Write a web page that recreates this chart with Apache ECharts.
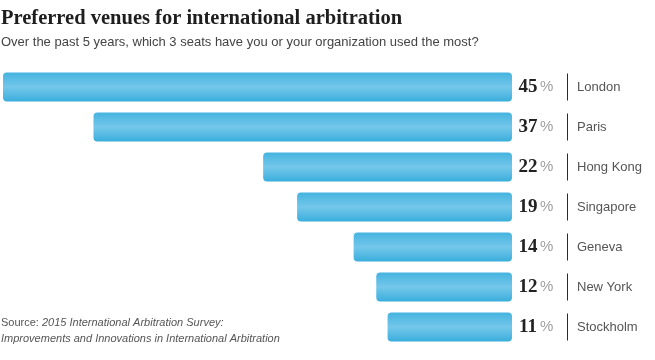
<!DOCTYPE html>
<html><head><meta charset="utf-8">
<script src="https://cdn.jsdelivr.net/npm/echarts@6/dist/echarts.min.js"></script>
<style>html,body{margin:0;padding:0;background:#fff}#c{width:655px;height:360px}</style>
</head><body><div id="c"></div>
<script>
const categories = ['London','Paris','Hong Kong','Singapore','Geneva','New York','Stockholm'];
const values = [45,37,22,19,14,12,11];
const titleText = 'Preferred venues for international arbitration';
const subtitleText = 'Over the past 5 years, which 3 seats have you or your organization used the most?';
const sourceLabel = 'Source: ';
const sourceLine1 = '2015 International Arbitration Survey:';
const sourceLine2 = 'Improvements and Innovations in International Arbitration';

const chart = echarts.init(document.getElementById('c'));
chart.setOption({
  animation:false,
  backgroundColor:'#fff',
  title:[{
    text:titleText, left:1, top:8, padding:0,
    textStyle:{fontFamily:'Liberation Serif',fontWeight:'bold',fontSize:20.5,color:'#1e1e1e'}
  },{
    text:subtitleText, left:1, top:36, padding:0,
    textStyle:{fontFamily:'Liberation Sans',fontWeight:'normal',fontSize:13,color:'#444'}
  },{
    text:'{a|'+sourceLabel+'}{b|'+sourceLine1+'}\n{b|'+sourceLine2+'}', left:1, top:315, padding:0,
    textStyle:{fontWeight:'normal',rich:{
      a:{fontFamily:'Liberation Sans',fontWeight:'normal',fontSize:11,color:'#555',lineHeight:16},
      b:{fontFamily:'Liberation Sans',fontWeight:'normal',fontStyle:'italic',fontSize:11,color:'#555',lineHeight:16}
    }}
  }],
  grid:{left:3,right:143,top:67,bottom:13},
  xAxis:{type:'value',inverse:true,min:0,max:45,show:false},
  yAxis:{type:'category',data:categories,inverse:true,position:'right',
    axisLine:{show:false},axisTick:{show:false},
    axisLabel:{margin:55,formatter:v=>'{line| }{name|'+v+'}',
      rich:{line:{width:1,height:27,backgroundColor:'#2a2a2a'},
            name:{padding:[0,0,0,9],fontFamily:'Liberation Sans',fontSize:13,color:'#555'}}}
  },
  series:[{
    type:'bar',data:values,barWidth:29,
    itemStyle:{borderRadius:4,color:{type:'linear',x:0,y:0,x2:0,y2:1,colorStops:[
      {offset:0,color:'#45b3e0'},{offset:0.5,color:'#74c7ea'},{offset:1,color:'#3aaedd'}]}},
    label:{show:true,position:'right',distance:4,
      formatter:p=>'{n|'+p.value+'}{p|%}',
      rich:{n:{width:24,align:'right',fontFamily:'Liberation Serif',fontWeight:'bold',fontSize:19,color:'#222'},
            p:{fontFamily:'Liberation Sans',fontSize:15,color:'#a0a0a0',padding:[0,0,0,0]}}}
  }]
});
</script></body></html>
